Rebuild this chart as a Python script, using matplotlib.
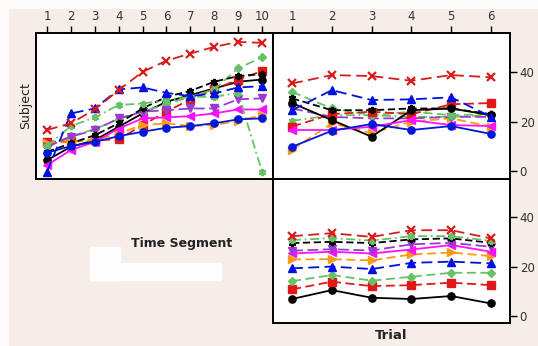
import matplotlib
matplotlib.use("Agg")
import matplotlib.pyplot as plt
from matplotlib.patches import Rectangle

# x positions
segments = list(range(1, 11))
trials = list(range(1, 7))

# Subject scores over time segments (top-left panel)
seg_black_circle = [4.4, 9.8, 12.5, 17.9, 23.3, 28.0, 30.7, 33.4, 36.1, 37.0]
seg_red_square = [11.8, 12.0, 12.5, 12.8, 18.6, 24.0, 29.0, 33.0, 37.0, 40.4]
seg_green_diamond = [10.5, 14.0, 17.0, 21.0, 24.0, 27.0, 30.0, 33.0, 41.5, 46.0]
seg_blue_triangle = [-0.3, 23.3, 25.3, 33.0, 33.8, 31.6, 30.3, 31.4, 33.8, 34.3]
seg_orange = [11.2, 11.8, 12.5, 15.2, 18.6, 19.3, 18.2, 18.6, 20.3, 22.6]
seg_magenta = [2.4, 8.5, 11.8, 17.2, 21.3, 21.7, 22.2, 23.3, 24.9, 24.9]
seg_purple = [9.8, 13.9, 16.6, 21.3, 24.0, 24.6, 25.3, 25.3, 29.0, 29.4]
seg_black_star = [7.8, 11.2, 14.5, 19.3, 25.3, 30.0, 32.4, 36.1, 38.4, 39.2]
seg_green_star = [10.1, 18.2, 21.7, 26.7, 27.3, 28.7, 30.0, 30.0, 31.6, -0.3]
seg_red_x = [16.6, 19.3, 24.9, 32.7, 40.1, 44.6, 47.5, 50.2, 52.2, 51.8]
seg_blue_circle = [7.4, 10.1, 11.8, 14.1, 15.9, 17.5, 18.2, 19.3, 20.9, 21.3]

# Subject scores over trials (top-right panel)
tr_black_circle = [27.5, 20.6, 13.9, 24.6, 25.3, 22.6]
tr_red_square = [18.0, 23.0, 24.0, 23.0, 27.0, 27.5]
tr_green_diamond = [32.0, 25.3, 22.6, 24.0, 22.6, 23.0]
tr_blue_triangle = [24.6, 32.7, 28.7, 29.0, 29.8, 22.0]
tr_orange = [8.7, 19.3, 15.3, 20.0, 21.3, 18.0]
tr_magenta = [16.6, 16.6, 17.9, 20.6, 18.6, 18.2]
tr_purple = [25.3, 21.9, 21.3, 21.3, 21.9, 21.9]
tr_black_star = [29.4, 24.6, 24.6, 25.3, 25.3, 23.0]
tr_green_star = [20.3, 22.6, 22.6, 21.9, 21.9, 22.6]
tr_red_x = [35.4, 38.8, 38.4, 36.5, 38.8, 37.9]
tr_blue_circle = [9.8, 16.3, 19.0, 16.6, 18.2, 15.0]

# Trial scores per subject (bottom-right panel)
tb_black_circle = [6.9, 10.5, 7.4, 6.9, 8.1, 5.1]
tb_red_square = [10.8, 13.9, 12.1, 12.5, 13.5, 12.5]
tb_green_diamond = [14.1, 16.6, 14.3, 15.9, 17.5, 17.5]
tb_blue_triangle = [19.3, 20.0, 19.0, 21.5, 22.0, 21.3]
tb_orange = [22.9, 23.0, 22.5, 24.9, 25.7, 24.2]
tb_magenta = [25.3, 26.0, 25.3, 26.9, 28.7, 26.0]
tb_purple = [26.4, 27.0, 26.5, 29.0, 29.6, 28.0]
tb_black_star = [29.5, 30.0, 29.5, 31.0, 31.4, 29.6]
tb_green_star = [30.7, 31.5, 30.5, 32.3, 32.3, 30.4]
tb_red_x = [32.3, 33.5, 32.0, 34.7, 34.7, 31.4]

asterisk = (6, 2, 0)

# colour, marker, dashes (None = solid)
styles = {
    "black_circle": ("black", "o", None),
    "blue_circle": ("#0018d8", "o", None),
    "red_square": ("#e01818", "s", (5, 2.5)),
    "green_diamond": ("#66c266", "D", (5, 2.5)),
    "blue_triangle": ("#0010e0", "^", (6, 3)),
    "orange": ("#ff9a10", ">", (5, 2.5)),
    "magenta": ("#ff10ff", "<", None),
    "purple": ("#9a3ad0", "v", (6, 2.5)),
    "black_star": ("black", asterisk, (4, 2)),
    "green_star": ("#66c266", asterisk, (5, 2, 1, 2)),
    "red_x": ("#d81c1c", "x", (6, 3)),
}

top_left = {
    "black_circle": seg_black_circle, "red_square": seg_red_square,
    "green_diamond": seg_green_diamond, "orange": seg_orange,
    "magenta": seg_magenta, "purple": seg_purple,
    "black_star": seg_black_star, "green_star": seg_green_star,
    "blue_triangle": seg_blue_triangle, "red_x": seg_red_x,
    "blue_circle": seg_blue_circle,
}
top_right = {
    "orange": tr_orange, "green_star": tr_green_star, "purple": tr_purple,
    "green_diamond": tr_green_diamond, "red_square": tr_red_square,
    "black_star": tr_black_star, "black_circle": tr_black_circle,
    "blue_triangle": tr_blue_triangle, "magenta": tr_magenta,
    "red_x": tr_red_x, "blue_circle": tr_blue_circle,
}
bottom_right = {
    "black_circle": tb_black_circle, "red_square": tb_red_square,
    "green_diamond": tb_green_diamond, "blue_triangle": tb_blue_triangle,
    "orange": tb_orange, "magenta": tb_magenta, "purple": tb_purple,
    "black_star": tb_black_star, "green_star": tb_green_star,
    "red_x": tb_red_x,
}

tick_color = "#333333"


def draw_series(ax, x, series):
    for key, vals in series.items():
        color, marker, dashes = styles[key]
        ms = 4.3 if marker == "D" else 5.2
        mew = 1.6 if marker == "x" or marker == asterisk else 1.0
        line, = ax.plot(x, vals, color=color, lw=1.3, marker=marker,
                        markersize=ms, markeredgewidth=mew,
                        markeredgecolor=color, markerfacecolor=color)
        if dashes is not None:
            line.set_dashes(dashes)


def style_axes(ax):
    ax.set_facecolor("white")
    for sp in ax.spines.values():
        sp.set_linewidth(1.4)
        sp.set_color("black")
    ax.tick_params(length=5, width=1, color="black", labelcolor=tick_color,
                   labelsize=8.5, pad=2)


fig = plt.figure(figsize=(5.38, 3.46), dpi=100)
fig.patch.set_facecolor("#f6ece8")
# pale strips along the top and left edge
fig.patches.append(Rectangle((0, 1 - 8 / 346), 1, 8 / 346, transform=fig.transFigure,
                             color="#fdfbfa", zorder=0))
fig.patches.append(Rectangle((0, 0), 8 / 538, 1, transform=fig.transFigure,
                             color="#fdfbfa", zorder=0))
# white blocks in the empty corner
fig.patches.append(Rectangle((90 / 538, 1 - 280 / 346), 30 / 538, 33 / 346,
                             transform=fig.transFigure, color="#fefefe", zorder=0))
fig.patches.append(Rectangle((90 / 538, 1 - 280 / 346), 131 / 538, 17 / 346,
                             transform=fig.transFigure, color="#fefefe", zorder=0))

left = 36 / 538
mid = 273 / 538
w = 237 / 538
top_bottom = 1 - 179 / 346
h_top = 146 / 346
bot_bottom = 1 - 323 / 346
h_bot = 144 / 346
ylim = (-3.2, 55.8)

ax1 = fig.add_axes([left, top_bottom, w, h_top])
ax2 = fig.add_axes([mid, top_bottom, w, h_top])
ax3 = fig.add_axes([mid, bot_bottom, w, h_bot])

# top-left: subject vs time segment
draw_series(ax1, segments, top_left)
style_axes(ax1)
ax1.set_xlim(0.54, 10.46)
ax1.set_ylim(*ylim)
ax1.set_xticks(segments)
ax1.xaxis.tick_top()
ax1.set_yticks([])
ax1.set_ylabel("Subject", fontsize=9, color="#222222", labelpad=3)

# top-right: subject vs trial
draw_series(ax2, trials, top_right)
style_axes(ax2)
ax2.set_xlim(0.52, 6.48)
ax2.set_ylim(*ylim)
ax2.set_xticks(trials)
ax2.xaxis.tick_top()
ax2.set_yticks([0, 20, 40])
ax2.yaxis.tick_right()

# bottom-right: trial panel
draw_series(ax3, trials, bottom_right)
style_axes(ax3)
ax3.set_xlim(0.52, 6.48)
ax3.set_ylim(-2.8, 55.4)
ax3.set_xticks([])
ax3.set_yticks([0, 20, 40])
ax3.yaxis.tick_right()
ax3.set_xlabel("Trial", fontsize=9.5, weight="bold", color="#222222", labelpad=4)

fig.text(182 / 538, 1 - 243 / 346, "Time Segment", fontsize=9, weight="bold",
         color="#222222", ha="center", va="center")

fig.savefig("out.png", dpi=100, facecolor=fig.get_facecolor())
